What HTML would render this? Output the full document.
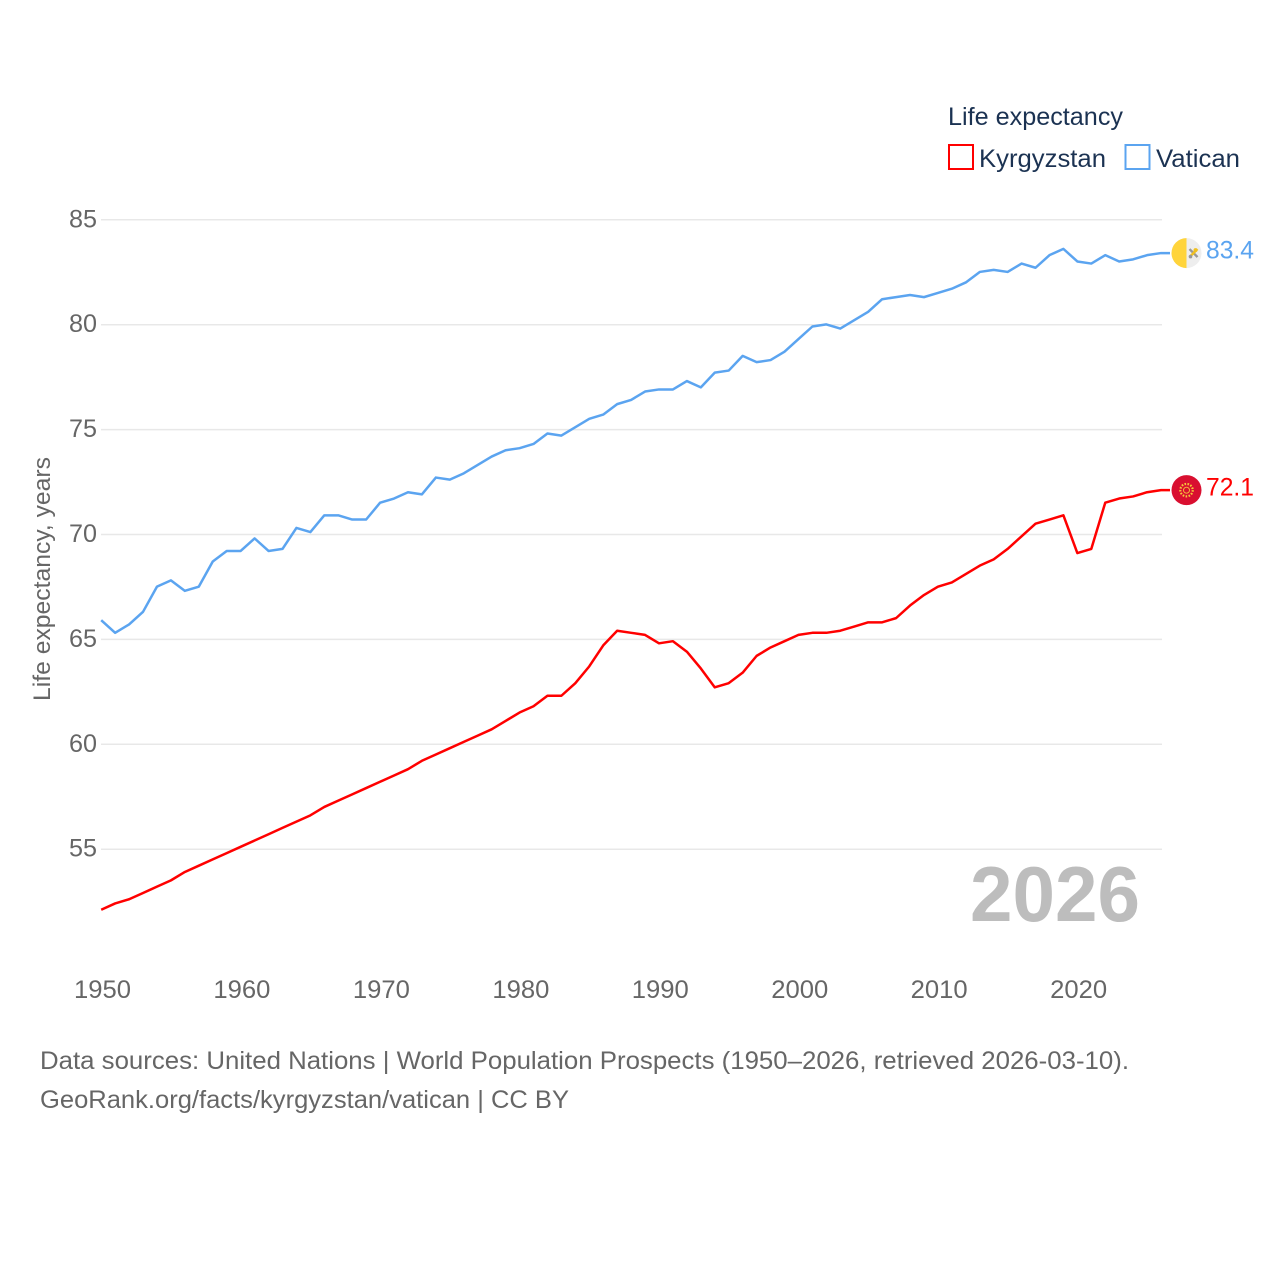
<!DOCTYPE html>
<html lang="en">
<head>
<meta charset="utf-8">
<title>Life expectancy: Kyrgyzstan and Vatican</title>
<style>
html,body{margin:0;padding:0;background:#fff;width:1280px;height:1280px;overflow:hidden}
svg{display:block}
text{font-family:"Liberation Sans",sans-serif}
</style>
</head>
<body>
<svg id="chart" width="1280" height="1280" viewBox="0 0 1280 1280" xmlns="http://www.w3.org/2000/svg">
  <g id="grid"></g>
  <g id="yticks"></g>
  <g id="xticks"></g>
  <text transform="translate(50,701) rotate(-90)" font-size="24" fill="#666" textLength="244" lengthAdjust="spacingAndGlyphs">Life expectancy, years</text>
  <text x="970" y="921" font-size="78" font-weight="700" fill="#bdbdbd" textLength="170" lengthAdjust="spacingAndGlyphs">2026</text>
  <g id="series"></g>

  <g>
    <text x="948" y="125" font-size="25" fill="#1b3252" textLength="175" lengthAdjust="spacingAndGlyphs">Life expectancy</text>
    <g>
      <rect x="949" y="145" width="24" height="24" fill="#fff" stroke="#ff0000" stroke-width="2"/>
      <text x="979" y="167" font-size="25" fill="#1b3252" textLength="127" lengthAdjust="spacingAndGlyphs">Kyrgyzstan</text>
    </g>
    <g>
      <rect x="1125.5" y="145" width="24" height="24" fill="#fff" stroke="#5ba4f0" stroke-width="2"/>
      <text x="1156" y="167" font-size="25" fill="#1b3252" textLength="84" lengthAdjust="spacingAndGlyphs">Vatican</text>
    </g>
  </g>

  <g>
    <text x="40" y="1069" font-size="25" fill="#666" textLength="1089" lengthAdjust="spacingAndGlyphs">Data sources: United Nations | World Population Prospects (1950–2026, retrieved 2026-03-10).</text>
    <text x="40" y="1108" font-size="25" fill="#666" textLength="529" lengthAdjust="spacingAndGlyphs">GeoRank.org/facts/kyrgyzstan/vatican | CC BY</text>
  </g>
</svg>
<script>
const years = [1950,1951,1952,1953,1954,1955,1956,1957,1958,1959,1960,1961,1962,1963,1964,1965,1966,1967,1968,1969,1970,1971,1972,1973,1974,1975,1976,1977,1978,1979,1980,1981,1982,1983,1984,1985,1986,1987,1988,1989,1990,1991,1992,1993,1994,1995,1996,1997,1998,1999,2000,2001,2002,2003,2004,2005,2006,2007,2008,2009,2010,2011,2012,2013,2014,2015,2016,2017,2018,2019,2020,2021,2022,2023,2024,2025,2026];
const kyrgyzstan = [52.1,52.4,52.6,52.9,53.2,53.5,53.9,54.2,54.5,54.8,55.1,55.4,55.7,56.0,56.3,56.6,57.0,57.3,57.6,57.9,58.2,58.5,58.8,59.2,59.5,59.8,60.1,60.4,60.7,61.1,61.5,61.8,62.3,62.3,62.9,63.7,64.7,65.4,65.3,65.2,64.8,64.9,64.4,63.6,62.7,62.9,63.4,64.2,64.6,64.9,65.2,65.3,65.3,65.4,65.6,65.8,65.8,66.0,66.6,67.1,67.5,67.7,68.1,68.5,68.8,69.3,69.9,70.5,70.7,70.9,69.1,69.3,71.5,71.7,71.8,72.0,72.1];
const vatican = [65.9,65.3,65.7,66.3,67.5,67.8,67.3,67.5,68.7,69.2,69.2,69.8,69.2,69.3,70.3,70.1,70.9,70.9,70.7,70.7,71.5,71.7,72.0,71.9,72.7,72.6,72.9,73.3,73.7,74.0,74.1,74.3,74.8,74.7,75.1,75.5,75.7,76.2,76.4,76.8,76.9,76.9,77.3,77.0,77.7,77.8,78.5,78.2,78.3,78.7,79.3,79.9,80.0,79.8,80.2,80.6,81.2,81.3,81.4,81.3,81.5,81.7,82.0,82.5,82.6,82.5,82.9,82.7,83.3,83.6,83.0,82.9,83.3,83.0,83.1,83.3,83.4];
const yTickValues = [55,60,65,70,75,80,85];
const xTickValues = [1950,1960,1970,1980,1990,2000,2010,2020];

const NS = 'http://www.w3.org/2000/svg';
const xScale = function (year) { return 101.2 + (year - 1950) * 13.945; };
const yScale = function (value) { return 848.9 - (value - 55) * 20.98; };

function make(tag, attrs, parent) {
  const el = document.createElementNS(NS, tag);
  for (const k in attrs) el.setAttribute(k, attrs[k]);
  parent.appendChild(el);
  return el;
}

const gridG = document.getElementById('grid');
const yG = document.getElementById('yticks');
const xG = document.getElementById('xticks');
const seriesG = document.getElementById('series');

yTickValues.forEach(function (v) {
  const line = make('line', {x1: 101, x2: 1162, y1: yScale(v) + 0.3, y2: yScale(v) + 0.3, stroke: '#e8e8e8', 'stroke-width': 1.5}, gridG);
  
  
  const t = make('text', {x: 97, y: yScale(v) + 7.8, 'font-size': 25, fill: '#666', 'text-anchor': 'end', textLength: 28, lengthAdjust: 'spacingAndGlyphs'}, yG);
  
  
  t.textContent = v;
});

xTickValues.forEach(function (yr) {
  const t = make('text', {x: xScale(yr) + 1.3, y: 998, 'font-size': 25, fill: '#666', 'text-anchor': 'middle', textLength: 57, lengthAdjust: 'spacingAndGlyphs'}, xG);
  
  
  t.textContent = yr;
});

function drawSeries(values, color, lineName, labelName) {
  const pts = values.map(function (v, i) { return xScale(years[i]).toFixed(2) + ',' + yScale(v).toFixed(2); });
  const last = values[values.length - 1];
  pts.push('1170,' + yScale(last).toFixed(2));
  const line = make('polyline', {points: pts.join(' '), fill: 'none', stroke: color, 'stroke-width': 2.5, 'stroke-linejoin': 'round'}, seriesG);
  
  
  const label = make('text', {x: 1206, y: yScale(last) + 5.5, 'font-size': 25, fill: color, textLength: 48, lengthAdjust: 'spacingAndGlyphs'}, seriesG);
  
  
  label.textContent = last.toFixed(1);
}

drawSeries(kyrgyzstan, '#ff0000', 'line-kyrgyzstan', 'end-label-kyrgyzstan');
drawSeries(vatican, '#5ba4f0', 'line-vatican', 'end-label-vatican');

// Flag markers follow the last data value of each series
const cx = 1186.5;
const vy = yScale(vatican[vatican.length - 1]);
const ky = yScale(kyrgyzstan[kyrgyzstan.length - 1]);

const vFlag = make('g', {transform: 'translate(' + cx + ',' + vy + ')'}, seriesG);


make('circle', {r: 15, fill: '#eeeeee'}, vFlag);
make('path', {d: 'M0,-15 A15,15 0 0 0 0,15 Z', fill: '#ffd43b'}, vFlag);
make('path', {d: 'M3,-4 L11,4', stroke: '#999', 'stroke-width': 2.4, fill: 'none'}, vFlag);
make('path', {d: 'M11,-4 L3,4', stroke: '#f0c020', 'stroke-width': 2.4, fill: 'none'}, vFlag);
make('circle', {cx: 9, cy: -3, r: 2, fill: '#f0c020'}, vFlag);
make('circle', {cx: 4, cy: 3.5, r: 1.8, fill: '#999'}, vFlag);

const kFlag = make('g', {transform: 'translate(' + cx + ',' + ky + ')'}, seriesG);


make('circle', {r: 15, fill: '#d90f30'}, kFlag);
make('circle', {r: 6.2, fill: 'none', stroke: '#f5c53a', 'stroke-width': 2.2, 'stroke-dasharray': '1.6 1.4'}, kFlag);
make('circle', {r: 3, fill: 'none', stroke: '#f5c53a', 'stroke-width': 0.9}, kFlag);
</script>
</body>
</html>
